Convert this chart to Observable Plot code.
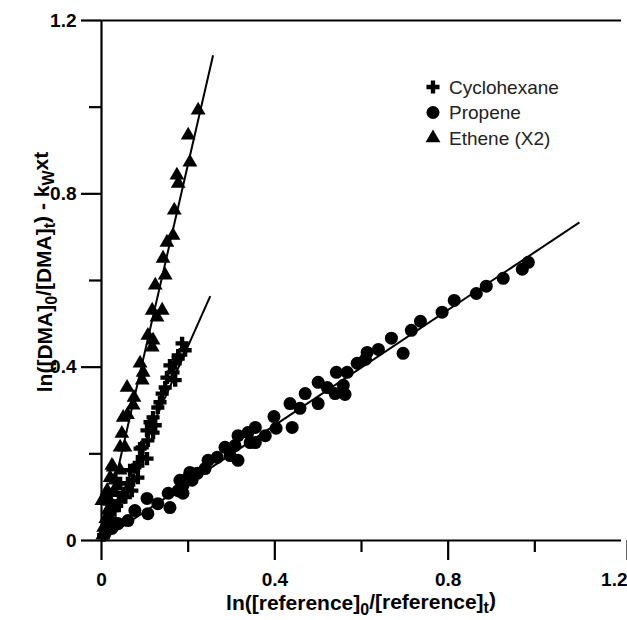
<!DOCTYPE html>
<html><head><meta charset="utf-8">
<script src="https://cdn.jsdelivr.net/npm/d3@7"></script>
<script src="https://cdn.jsdelivr.net/npm/@observablehq/plot@0.6"></script>
<style>
body{margin:0;background:#fff;}
#chart{position:relative;width:627px;height:620px;}
#chart svg{font-family:"Liberation Sans",Arial,Helvetica,sans-serif;}
</style></head><body><div id="chart"></div>
<script>
// Data
const propene = [
  [0.008,0.016],[0.024,0.028],[0.038,0.039],[0.061,0.046],[0.077,0.069],[0.107,0.062],[0.105,0.097],
  [0.130,0.085],[0.158,0.076],[0.154,0.109],[0.177,0.115],[0.181,0.139],[0.200,0.145],[0.188,0.109],
  [0.188,0.127],[0.209,0.139],[0.204,0.157],[0.221,0.155],[0.239,0.166],[0.246,0.185],[0.267,0.192],
  [0.315,0.185],[0.297,0.196],[0.285,0.215],[0.308,0.219],[0.315,0.242],[0.343,0.226],[0.338,0.249],
  [0.355,0.226],[0.355,0.261],[0.378,0.242],[0.403,0.259],[0.398,0.286],[0.440,0.261],[0.435,0.316],
  [0.458,0.305],[0.470,0.339],[0.500,0.316],[0.500,0.365],[0.521,0.353],[0.539,0.339],[0.562,0.337],
  [0.558,0.358],[0.542,0.388],[0.567,0.388],[0.590,0.409],[0.609,0.418],[0.613,0.434],[0.639,0.441],
  [0.669,0.467],[0.696,0.432],[0.715,0.485],[0.736,0.506],[0.786,0.527],[0.814,0.554],[0.865,0.570],
  [0.888,0.587],[0.927,0.605],[0.971,0.626],[0.985,0.642]
];
const cyclohexane = [
  [0.005,0.012],[0.012,0.030],[0.020,0.050],[0.030,0.070],[0.035,0.080],[0.040,0.090],[0.055,0.100],
  [0.050,0.109],[0.070,0.115],[0.043,0.132],[0.061,0.132],[0.073,0.139],[0.084,0.145],[0.066,0.162],
  [0.077,0.169],[0.084,0.173],[0.105,0.189],[0.094,0.192],[0.089,0.212],[0.094,0.215],[0.107,0.231],
  [0.119,0.249],[0.105,0.254],[0.124,0.266],[0.112,0.273],[0.119,0.284],[0.130,0.307],[0.135,0.319],
  [0.140,0.339],[0.147,0.353],[0.170,0.370],[0.151,0.376],[0.165,0.388],[0.158,0.404],[0.170,0.409],
  [0.177,0.420],[0.177,0.427],[0.193,0.439],[0.186,0.455]
];
const ethene = [
  [0.003,0.012],[0.005,0.030],[0.010,0.050],[0.015,0.070],[0.020,0.090],[0.001,0.092],[0.008,0.099],
  [0.030,0.110],[0.013,0.115],[0.035,0.125],[0.031,0.139],[0.020,0.145],[0.043,0.162],[0.027,0.169],
  [0.024,0.173],[0.043,0.215],[0.054,0.215],[0.047,0.247],[0.050,0.284],[0.060,0.290],[0.073,0.312],
  [0.075,0.330],[0.059,0.353],[0.094,0.370],[0.096,0.388],[0.089,0.409],[0.117,0.446],[0.119,0.462],
  [0.107,0.473],[0.128,0.515],[0.117,0.531],[0.140,0.531],[0.124,0.589],[0.147,0.612],[0.142,0.651],
  [0.151,0.688],[0.165,0.704],[0.168,0.762],[0.177,0.824],[0.174,0.843],[0.204,0.873],[0.200,0.935],
  [0.223,0.993]
];
// Fitted lines: start and end points
const fitNames = ["Cyclohexane", "Propene", "Ethene (X2)"];
const fitStartX = [0, 0, 0];
const fitStartY = [0, 0, 0];
const fitEndX = [0.251, 1.103, 0.2575];
const fitEndY = [0.564, 0.734, 1.120];
const seriesNames = ["Cyclohexane", "Propene", "Ethene (X2)"];
const seriesSymbols = ["cross", "circle", "triangle"];
const majorTicks = [0, 0.4, 0.8, 1.2];
const minorTicks = [0.2, 0.6, 1.0];

const fits = fitNames.map((n, i) => ({name: n, x1: fitStartX[i], y1: fitStartY[i], x2: fitEndX[i], y2: fitEndY[i]}));
const toObj = a => a.map(([x, y]) => ({x, y}));
const fmt = d => d === 0 ? "0" : d.toFixed(1);
const font = "\"Liberation Sans\",Arial,Helvetica,sans-serif";
const lastX = majorTicks[majorTicks.length - 1];

const plot = Plot.plot({
  width: 627, height: 620,
  marginLeft: 101, marginRight: 6, marginTop: 20, marginBottom: 80,
  style: {fontFamily: font, background: "white"},
  x: {domain: [0, 1.2], label: null},
  y: {domain: [0, 1.2], label: null},
  marks: [
    Plot.dot(toObj(propene), {x: "x", y: "y", symbol: "circle", r: 6.5, fill: "black"}),
    Plot.dot(toObj(cyclohexane), {x: "x", y: "y", symbol: "cross", r: 5.5, fill: "black"}),
    Plot.dot(toObj(ethene), {x: "x", y: "y", symbol: "triangle", r: 5.5, fill: "black"}),
    Plot.link(fits, {x1: "x1", y1: "y1", x2: "x2", y2: "y2", stroke: "black", strokeWidth: 2}),
    Plot.ruleX([0], {stroke: "black", strokeWidth: 2.2}),
    Plot.ruleY([0], {stroke: "black", strokeWidth: 2.2}),
    Plot.ruleY([1.2], {stroke: "black", strokeWidth: 2.2}),
    Plot.axisX(majorTicks.filter(d => d !== lastX), {tickSize: 20, tickPadding: 12, tickFormat: fmt, fontSize: 19, fontWeight: "bold", strokeWidth: 2.2, label: null}),
    Plot.axisX([lastX], {tickSize: 20, tickPadding: 12, tickFormat: fmt, fontSize: 19, fontWeight: "bold", strokeWidth: 2.2, label: null, textAnchor: "end", dx: 6}),
    Plot.axisX(minorTicks, {tickSize: 12, tickFormat: () => "", strokeWidth: 2.2, label: null}),
    Plot.axisY(majorTicks, {tickSize: 20, tickPadding: 5, tickFormat: fmt, fontSize: 19, fontWeight: "bold", strokeWidth: 2.2, label: null}),
    Plot.axisY(minorTicks, {tickSize: 12, tickFormat: () => "", strokeWidth: 2.2, label: null})
  ]
});
document.getElementById("chart").appendChild(plot);

const svg = d3.select(plot);
svg.selectAll("text").style("fill", "black");

// Axis titles with subscripts
function addTitle(parts, x, y, rotate) {
  const t = svg.append("text")
    .attr("transform", `translate(${x},${y})` + (rotate ? " rotate(-90)" : ""))
    .attr("text-anchor", "middle")
    .style("font-family", font).style("font-size", "21px").style("font-weight", "bold").style("fill", "black");
  let sub = false;
  parts.forEach(([s, isSub]) => {
    const ts = t.append("tspan").text(s);
    if (isSub && !sub) { ts.attr("dy", "0.3em").style("font-size", "16px"); sub = true; }
    else if (isSub && sub) { ts.style("font-size", "16px"); }
    else if (!isSub && sub) { ts.attr("dy", "-0.3em"); sub = false; }
  });
}
addTitle([["ln([reference]", false], ["0", true], ["/[reference]", false], ["t", true], [")", false]], 361, 610, false);
addTitle([["ln([DMA]", false], ["0", true], ["/[DMA]", false], ["t", true], [") - k", false], ["W", true], ["xt", false]], 52, 272, true);

// Legend
const lg = svg.append("g").attr("text-anchor", "start");
seriesNames.forEach((name, i) => {
  const cy = 87 + i * 25.5;
  const sym = seriesSymbols[i] === "cross" ? d3.symbolCross : seriesSymbols[i] === "circle" ? d3.symbolCircle : d3.symbolTriangle;
  const size = seriesSymbols[i] === "circle" ? Math.PI * 6.5 * 6.5 : Math.PI * 5.5 * 5.5;
  lg.append("path").attr("d", d3.symbol(sym, size)()).attr("transform", `translate(433,${cy})`).attr("fill", "black");
  lg.append("text").attr("x", 449).attr("y", cy).attr("dy", "0.35em").attr("text-anchor", "start")
    .style("font-family", font).style("font-size", "19px").style("fill", "#222").text(name);
});
</script></body></html>
